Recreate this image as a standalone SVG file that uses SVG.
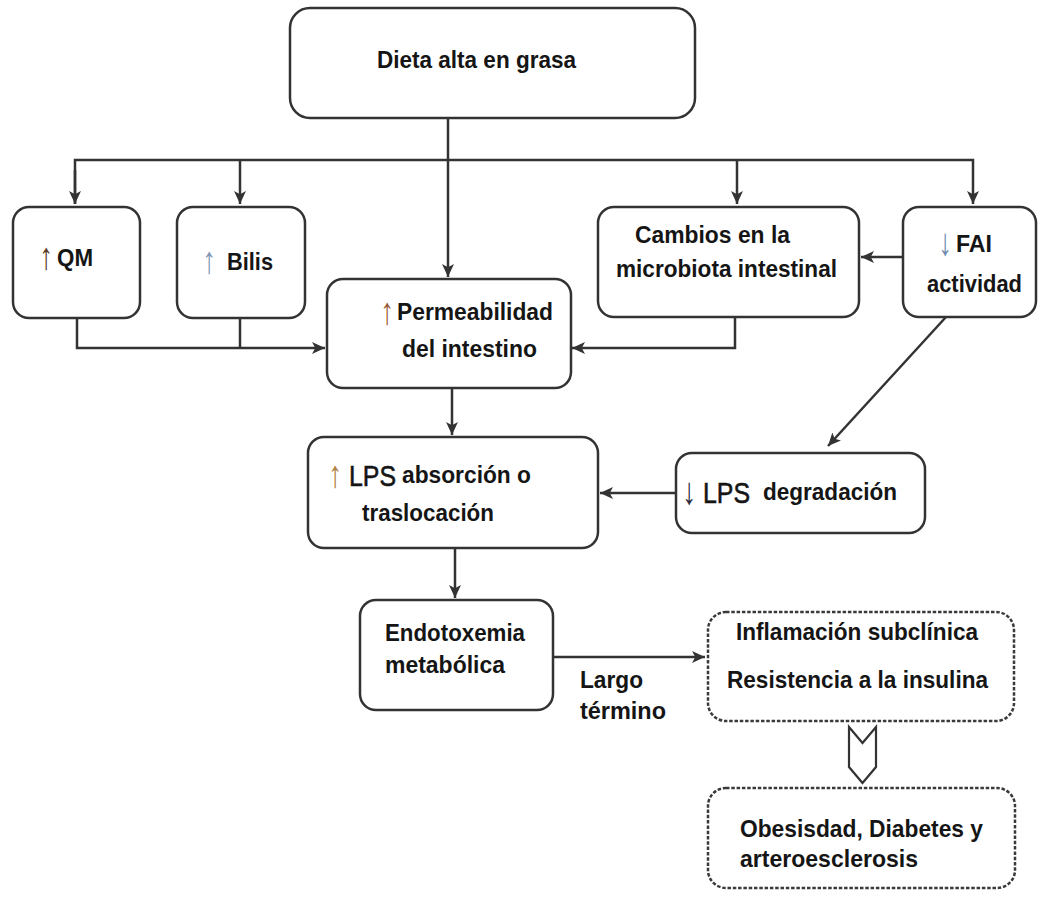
<svg xmlns="http://www.w3.org/2000/svg" width="1038" height="897" viewBox="0 0 1038 897">
  <style>
    .box { fill: #ffffff; stroke: #333333; stroke-width: 2.5; }
    .dash { fill: #ffffff; stroke: #3a3a3a; stroke-width: 2.5; stroke-dasharray: 3.5 1.8; }
    .lbl { font-family: "Liberation Sans", Arial, sans-serif; font-size: 24px; font-weight: bold; fill: #151515; }
    .big { font-family: "Liberation Sans", Arial, sans-serif; font-size: 30px; font-weight: normal; fill: #151515; stroke: #151515; stroke-width: 0.6; }
    .arw { font-family: "Liberation Sans", Arial, sans-serif; font-size: 38px; font-weight: normal; }
    .conn { fill: none; stroke: #333333; stroke-width: 2.5; }
  </style>
  <defs>
    <marker id="head" markerUnits="userSpaceOnUse" viewBox="0 0 12 12" refX="12" refY="6" markerWidth="13" markerHeight="13" orient="auto">
      <path d="M0,0.5 L12,6 L0,11.5 L3,6 z" fill="#333333"/>
    </marker>
  </defs>

  <rect width="1038" height="897" fill="#ffffff"/>

  <!-- connectors -->
  <g id="connectors">
    <path class="conn" d="M448,118 V277" marker-end="url(#head)"/>
    <path class="conn" d="M75,204 V160 H973 V204" marker-end="url(#head)"/>
    <path class="conn" d="M75,170 V204" marker-end="url(#head)"/>
    <path class="conn" d="M240,160 V204" marker-end="url(#head)"/>
    <path class="conn" d="M737,160 V204" marker-end="url(#head)"/>
    <path class="conn" d="M77,318 V348 H325" marker-end="url(#head)"/>
    <path class="conn" d="M240,318 V348"/>
    <path class="conn" d="M735,317 V348 H572" marker-end="url(#head)"/>
    <path class="conn" d="M903,257 H861" marker-end="url(#head)"/>
    <path class="conn" d="M946,317 L828,446" marker-end="url(#head)"/>
    <path class="conn" d="M452,388 V435" marker-end="url(#head)"/>
    <path class="conn" d="M675,493 H600" marker-end="url(#head)"/>
    <path class="conn" d="M455,548 V598" marker-end="url(#head)"/>
    <path class="conn" d="M554,657 H705" marker-end="url(#head)"/>
    <!-- hollow chevron arrow -->
    <path d="M849,727 L862.5,743 L876,727 L876,767 L862.5,783 L849,767 Z" fill="#ffffff" stroke="#333333" stroke-width="2.2" stroke-linejoin="miter"/>
  </g>

  <g id="dieta">
    <rect class="box" x="290" y="8" width="405" height="110" rx="20"/>
    <text class="lbl" x="377" y="68" textLength="199" lengthAdjust="spacingAndGlyphs">Dieta alta en grasa</text>
  </g>

  <g id="qm">
    <rect class="box" x="13" y="207" width="127" height="111" rx="16"/>
    <text class="arw" x="39" y="269" textLength="14" lengthAdjust="spacingAndGlyphs" fill="#5a3a22">↑</text>
    <text class="lbl" x="57" y="266" textLength="36" lengthAdjust="spacingAndGlyphs">QM</text>
  </g>

  <g id="bilis">
    <rect class="box" x="177" y="207" width="128" height="111" rx="16"/>
    <text class="arw" x="202" y="273" textLength="14" lengthAdjust="spacingAndGlyphs" fill="#7f97b2">↑</text>
    <text class="lbl" x="227" y="270" textLength="46" lengthAdjust="spacingAndGlyphs">Bilis</text>
  </g>

  <g id="permeabilidad">
    <rect class="box" x="327" y="279" width="244" height="109" rx="16"/>
    <text class="arw" x="380" y="324" textLength="14" lengthAdjust="spacingAndGlyphs" fill="#9a5a36">↑</text>
    <text class="lbl" x="397" y="320" textLength="156" lengthAdjust="spacingAndGlyphs">Permeabilidad</text>
    <text class="lbl" x="402" y="357" textLength="135" lengthAdjust="spacingAndGlyphs">del intestino</text>
  </g>

  <g id="microbiota">
    <rect class="box" x="598" y="207" width="261" height="110" rx="16"/>
    <text class="lbl" x="635" y="243" textLength="155" lengthAdjust="spacingAndGlyphs">Cambios en la</text>
    <text class="lbl" x="616" y="277" textLength="221" lengthAdjust="spacingAndGlyphs">microbiota intestinal</text>
  </g>

  <g id="fai">
    <rect class="box" x="903" y="207" width="133" height="110" rx="16"/>
    <text class="arw" x="938" y="255" textLength="14" lengthAdjust="spacingAndGlyphs" fill="#6e8cae">↓</text>
    <text class="lbl" x="956" y="252" textLength="36" lengthAdjust="spacingAndGlyphs">FAI</text>
    <text class="lbl" x="927" y="292" textLength="95" lengthAdjust="spacingAndGlyphs">actividad</text>
  </g>

  <g id="lps-absorcion">
    <rect class="box" x="308" y="437" width="290" height="111" rx="16"/>
    <text class="arw" x="328" y="487" textLength="14" lengthAdjust="spacingAndGlyphs" fill="#b08040">↑</text>
    <text class="big" x="349" y="486" textLength="47" lengthAdjust="spacingAndGlyphs">LPS</text>
    <text class="lbl" x="402" y="483" textLength="129" lengthAdjust="spacingAndGlyphs">absorción o</text>
    <text class="lbl" x="362" y="521" textLength="132" lengthAdjust="spacingAndGlyphs">traslocación</text>
  </g>

  <g id="lps-degradacion">
    <rect class="box" x="676" y="453" width="249" height="80" rx="16"/>
    <text class="arw" x="682" y="504" textLength="14" lengthAdjust="spacingAndGlyphs" fill="#2a2a3a">↓</text>
    <text class="big" x="703" y="503" textLength="47" lengthAdjust="spacingAndGlyphs">LPS</text>
    <text class="lbl" x="763" y="500" textLength="134" lengthAdjust="spacingAndGlyphs">degradación</text>
  </g>

  <g id="endotoxemia">
    <rect class="box" x="360" y="600" width="193" height="110" rx="16"/>
    <text class="lbl" x="385" y="641" textLength="140" lengthAdjust="spacingAndGlyphs">Endotoxemia</text>
    <text class="lbl" x="385" y="673" textLength="120" lengthAdjust="spacingAndGlyphs">metabólica</text>
  </g>

  <g id="largo-termino">
    <text class="lbl" x="580" y="688" textLength="63" lengthAdjust="spacingAndGlyphs">Largo</text>
    <text class="lbl" x="580" y="719" textLength="86" lengthAdjust="spacingAndGlyphs">término</text>
  </g>

  <g id="inflamacion">
    <rect class="dash" x="708" y="612" width="306" height="109" rx="18"/>
    <text class="lbl" x="736" y="640" textLength="242" lengthAdjust="spacingAndGlyphs">Inflamación subclínica</text>
    <text class="lbl" x="727" y="688" textLength="261" lengthAdjust="spacingAndGlyphs">Resistencia a la insulina</text>
  </g>

  <g id="obesidad">
    <rect class="dash" x="708" y="788" width="307" height="100" rx="18"/>
    <text class="lbl" x="740" y="837" textLength="243" lengthAdjust="spacingAndGlyphs">Obesisdad, Diabetes y</text>
    <text class="lbl" x="740" y="867" textLength="178" lengthAdjust="spacingAndGlyphs">arteroesclerosis</text>
  </g>
</svg>
